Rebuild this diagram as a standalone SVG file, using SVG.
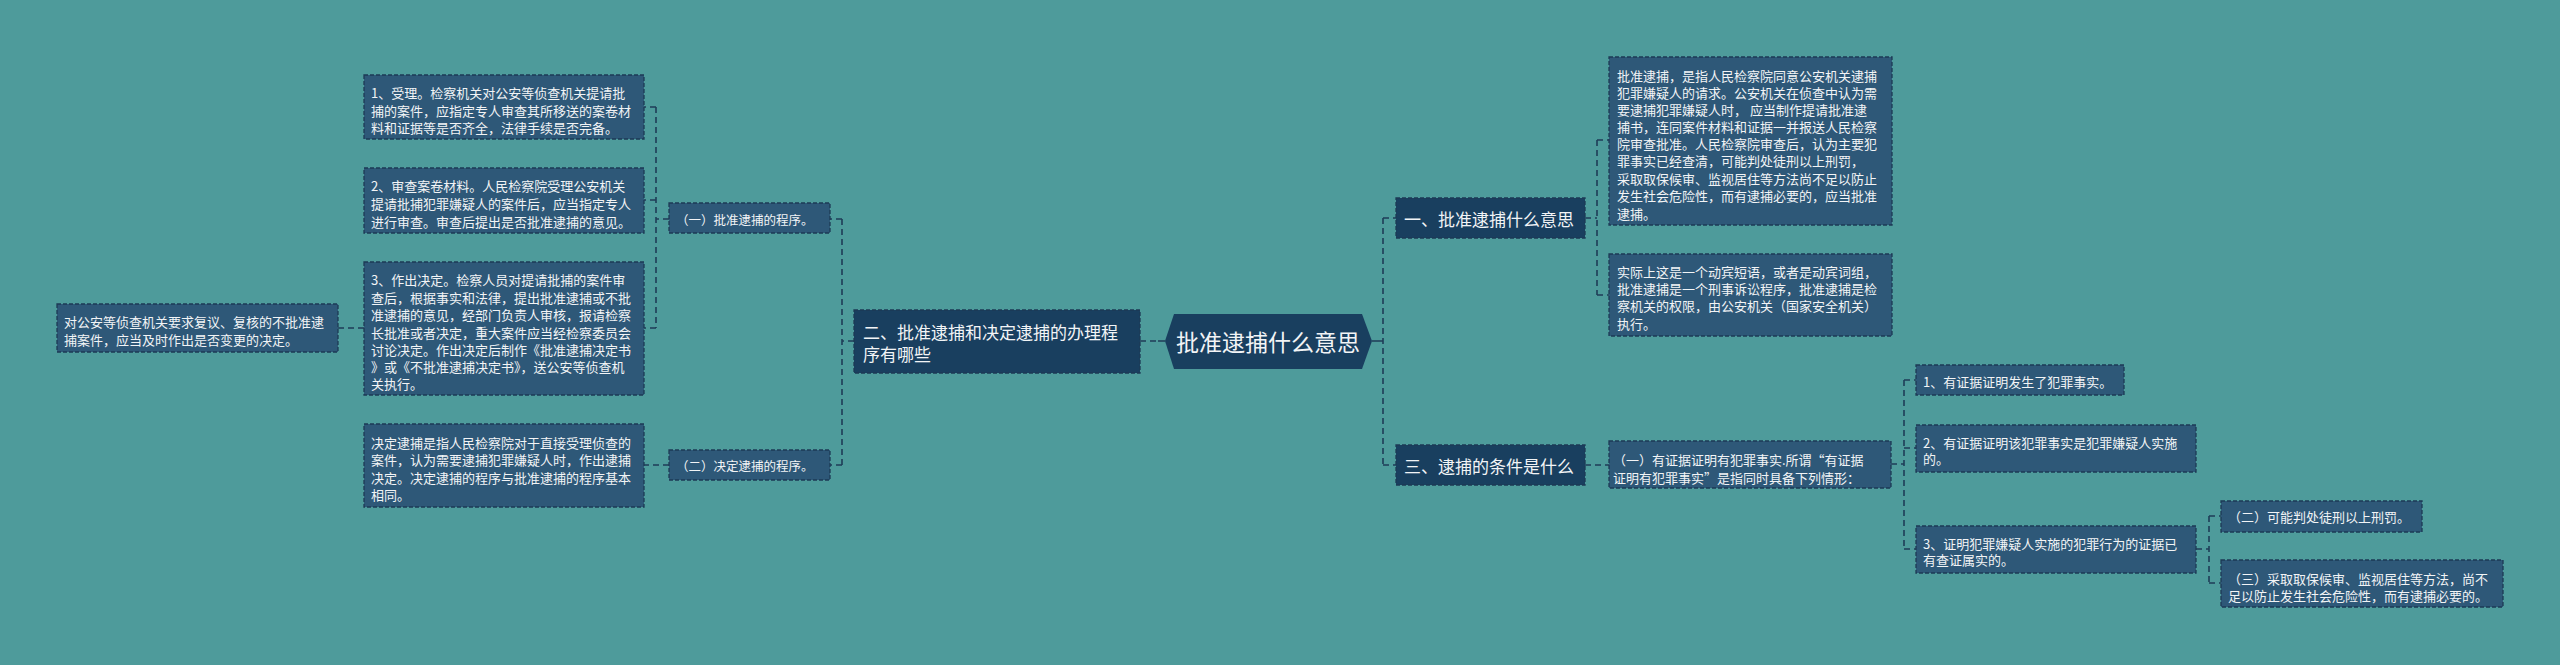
<svg xmlns="http://www.w3.org/2000/svg" width="2560" height="665" viewBox="0 0 2560 665">
<style>
text{font-family:"Microsoft YaHei","Noto Sans CJK SC","Noto Sans",sans-serif;fill:#f2f4f6;dominant-baseline:central}
.leaf{fill:#2e5878;stroke:#1d3a55;stroke-width:1.3;stroke-dasharray:4 2}
.main{fill:#193f5f;stroke:#1d3a55;stroke-width:1.3;stroke-dasharray:4 2}
.t13{font-size:13px}
.t12{font-size:12.5px}
.t17{font-size:17px}
.conn path{fill:none;stroke:#1f3d58;stroke-width:1.6;stroke-dasharray:6 4}
</style>
<rect width="2560" height="665" fill="#4e9b9b"/>
<g class="conn">
<path d="M854,341H842M842,219V465M842,219H830M842,465H830"/>
<path d="M669,219H656M656,107V328M656,107H644M656,200H644M656,328H644"/>
<path d="M669,465H644"/>
<path d="M364,328H338"/>
<path d="M1383,218V465M1383,218H1396M1383,465H1396"/>
<path d="M1585,218H1597M1597,140V295M1597,140H1609M1597,295H1609"/>
<path d="M1585,465H1609"/>
<path d="M1891,464H1904M1904,380V549M1904,380H1916M1904,448H1916M1904,549H1916"/>
<path d="M2196,549H2209M2209,516V583M2209,516H2221M2209,583H2221"/>
<path d="M1140,341H1160"/>
<path d="M1158,341H1165M1372,341H1383" style="stroke-dasharray:none"/>
</g>
<g id="root">
<polygon points="1165,341 1174,314 1362,314 1372,341 1362,369 1174,369" fill="#193f5f"/>
<text x="1268" y="341" font-size="23" text-anchor="middle">批准逮捕什么意思</text>
</g>
<g id="n2">
<rect class="main" x="854" y="310" width="286" height="63"/>
<text class="t17" x="863" y="331">二、批准逮捕和决定逮捕的办理程</text>
<text class="t17" x="863" y="353">序有哪些</text>
</g>
<g id="n2a">
<rect class="leaf" x="669" y="203" width="161" height="30"/>
<text class="t12" x="676" y="219">（一）批准逮捕的程序。</text>
</g>
<g id="n2b">
<rect class="leaf" x="669" y="450" width="161" height="30"/>
<text class="t12" x="676" y="465">（二）决定逮捕的程序。</text>
</g>
<g id="n2a1">
<rect class="leaf" x="364" y="75" width="280" height="64"/>
<text class="t13" x="371" y="92">1、受理。检察机关对公安等侦查机关提请批</text>
<text class="t13" x="371" y="110">捕的案件，应指定专人审查其所移送的案卷材</text>
<text class="t13" x="371" y="127">料和证据等是否齐全，法律手续是否完备。</text>
</g>
<g id="n2a2">
<rect class="leaf" x="364" y="168" width="280" height="65"/>
<text class="t13" x="371" y="185">2、审查案卷材料。人民检察院受理公安机关</text>
<text class="t13" x="371" y="203">提请批捕犯罪嫌疑人的案件后，应当指定专人</text>
<text class="t13" x="371" y="221">进行审查。审查后提出是否批准逮捕的意见。</text>
</g>
<g id="n2a3">
<rect class="leaf" x="364" y="262" width="280" height="133"/>
<text class="t13" x="371" y="279">3、作出决定。检察人员对提请批捕的案件审</text>
<text class="t13" x="371" y="297">查后，根据事实和法律，提出批准逮捕或不批</text>
<text class="t13" x="371" y="314">准逮捕的意见，经部门负责人审核，报请检察</text>
<text class="t13" x="371" y="332">长批准或者决定，重大案件应当经检察委员会</text>
<text class="t13" x="371" y="349">讨论决定。作出决定后制作《批准逮捕决定书</text>
<text class="t13" x="371" y="366">》或《不批准逮捕决定书》，送公安等侦查机</text>
<text class="t13" x="371" y="383">关执行。</text>
</g>
<g id="n2a3a">
<rect class="leaf" x="57" y="304" width="281" height="48"/>
<text class="t13" x="64" y="321">对公安等侦查机关要求复议、复核的不批准逮</text>
<text class="t13" x="64" y="339">捕案件，应当及时作出是否变更的决定。</text>
</g>
<g id="n2b1">
<rect class="leaf" x="364" y="424" width="280" height="83"/>
<text class="t13" x="371" y="442">决定逮捕是指人民检察院对于直接受理侦查的</text>
<text class="t13" x="371" y="459">案件，认为需要逮捕犯罪嫌疑人时，作出逮捕</text>
<text class="t13" x="371" y="477">决定。决定逮捕的程序与批准逮捕的程序基本</text>
<text class="t13" x="371" y="494">相同。</text>
</g>
<g id="n1">
<rect class="main" x="1396" y="198" width="189" height="40"/>
<text class="t17" x="1404" y="218">一、批准逮捕什么意思</text>
</g>
<g id="n3">
<rect class="main" x="1396" y="445" width="189" height="40"/>
<text class="t17" x="1404" y="465">三、逮捕的条件是什么</text>
</g>
<g id="n1a">
<rect class="leaf" x="1609" y="57" width="283" height="168"/>
<text class="t13" x="1617" y="75">批准逮捕，是指人民检察院同意公安机关逮捕</text>
<text class="t13" x="1617" y="92">犯罪嫌疑人的请求。公安机关在侦查中认为需</text>
<text class="t13" x="1617" y="109">要逮捕犯罪嫌疑人时， 应当制作提请批准逮</text>
<text class="t13" x="1617" y="126">捕书，连同案件材料和证据一并报送人民检察</text>
<text class="t13" x="1617" y="143">院审查批准。人民检察院审查后，认为主要犯</text>
<text class="t13" x="1617" y="160">罪事实已经查清，可能判处徒刑以上刑罚，</text>
<text class="t13" x="1617" y="178">采取取保候审、监视居住等方法尚不足以防止</text>
<text class="t13" x="1617" y="195">发生社会危险性，而有逮捕必要的，应当批准</text>
<text class="t13" x="1617" y="213">逮捕。</text>
</g>
<g id="n1b">
<rect class="leaf" x="1609" y="254" width="283" height="82"/>
<text class="t13" x="1617" y="271">实际上这是一个动宾短语，或者是动宾词组，</text>
<text class="t13" x="1617" y="288">批准逮捕是一个刑事诉讼程序，批准逮捕是检</text>
<text class="t13" x="1617" y="305">察机关的权限，由公安机关（国家安全机关）</text>
<text class="t13" x="1617" y="323">执行。</text>
</g>
<g id="n3a">
<rect class="leaf" x="1609" y="441" width="282" height="47"/>
<text class="t13" x="1613" y="459">（一）有证据证明有犯罪事实.所谓“有证据</text>
<text class="t13" x="1613" y="477">证明有犯罪事实”是指同时具备下列情形：</text>
</g>
<g id="n3a1">
<rect class="leaf" x="1916" y="365" width="208" height="30"/>
<text class="t13" x="1923" y="381">1、有证据证明发生了犯罪事实。</text>
</g>
<g id="n3a2">
<rect class="leaf" x="1916" y="425" width="280" height="47"/>
<text class="t13" x="1923" y="442">2、有证据证明该犯罪事实是犯罪嫌疑人实施</text>
<text class="t13" x="1923" y="458">的。</text>
</g>
<g id="n3a3">
<rect class="leaf" x="1916" y="526" width="280" height="47"/>
<text class="t13" x="1923" y="543">3、证明犯罪嫌疑人实施的犯罪行为的证据已</text>
<text class="t13" x="1923" y="559">有查证属实的。</text>
</g>
<g id="n3a3a">
<rect class="leaf" x="2221" y="501" width="201" height="31"/>
<text class="t13" x="2228" y="516">（二）可能判处徒刑以上刑罚。</text>
</g>
<g id="n3a3b">
<rect class="leaf" x="2221" y="560" width="282" height="47"/>
<text class="t13" x="2228" y="578">（三）采取取保候审、监视居住等方法，尚不</text>
<text class="t13" x="2228" y="595">足以防止发生社会危险性，而有逮捕必要的。</text>
</g>
</svg>
